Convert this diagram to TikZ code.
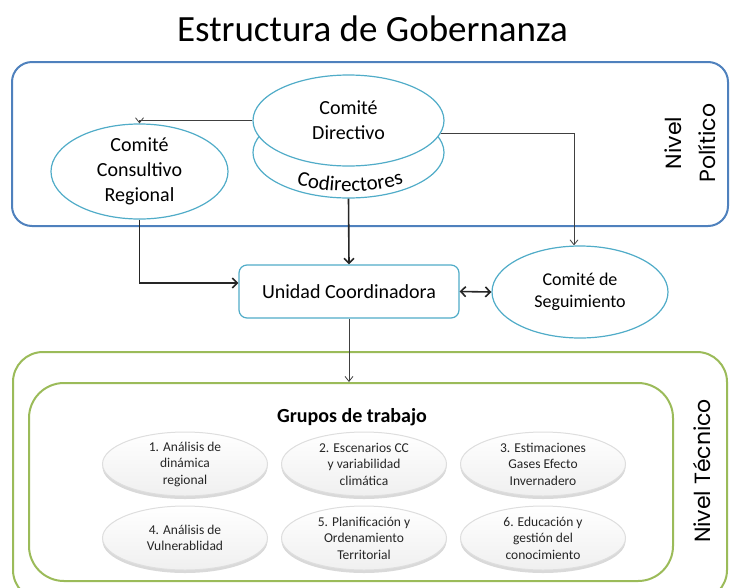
\documentclass[tikz,border=0pt]{standalone}
\usepackage{fontspec}
\setmainfont{Carlito}
\newfontfamily\nivelfont{Poppins}
\usetikzlibrary{shapes.geometric}
\usetikzlibrary{shadows}
\usetikzlibrary{decorations.text}
\usetikzlibrary{arrows.meta}

\definecolor{azul}{RGB}{79,129,189}
\definecolor{turquesa}{RGB}{80,172,200}
\definecolor{verde}{RGB}{155,187,89}

\begin{document}
\begin{tikzpicture}[x=1pt, y=-1pt,
    comite/.style={ellipse, draw=turquesa, line width=1.2pt, fill=white,
       inner sep=0pt, align=center, font=\fontsize{20}{25}\selectfont},
    grupo/.style={ellipse, minimum width=165pt, minimum height=64pt, inner sep=0pt,
       top color=white, bottom color=black!6, draw=black!13, line width=1pt,
       drop shadow={shadow xshift=0pt, shadow yshift=-3pt, opacity=0.3},
       align=center, text=black!85, font=\fontsize{13.5}{16.5}\selectfont},
    nivel/.style={rotate=90, align=center, font=\nivelfont\fontsize{22}{34}\selectfont},
    flecha fina/.style={-{Straight Barb[length=5pt, width=8pt]}, draw=black!75,
       line width=0.8pt},
    flecha gruesa/.style={-{Straight Barb[length=5pt, width=10pt]}, draw=black!85,
       line width=1.6pt}]
\useasboundingbox (0,0) rectangle (730,587);

\node [anchor=base, font=\fontsize{37}{40}\selectfont] (titulo) at (372.5,41)
   {Estructura de Gobernanza};

% nivel politico
\draw [azul, line width=2pt, rounded corners=20pt] (12,62) rectangle (728,226);
\node [nivel] (politico) at (690,143) {Nivel\\Político};

\node [comite, minimum width=191pt, minimum height=91pt] (codir) at (348.5,152.5) {};
\path [decorate, decoration={text along path, text align=center,
   text={|\fontsize{21}{21}\selectfont|Codirectores}}]
   (286,181) .. controls (325,195) and (375,195) .. (414,180);
\node [comite, minimum width=191pt, minimum height=91pt] (dir) at (348.5,120.5)
   {Comité\\Directivo};
\node [comite, minimum width=177pt, minimum height=77pt] (cons) at (139.5,171.5)
   {Comité\\Consultivo\\Regional};

\node [draw=turquesa, line width=1.2pt, rounded corners=8pt, fill=white,
   minimum width=220pt, minimum height=53pt, font=\fontsize{20}{25}\selectfont]
   (uc) at (349,291.5) {Unidad Coordinadora};
\node [comite, minimum width=176pt, minimum height=92pt,
   font=\fontsize{18}{22}\selectfont] (seg) at (580,292) {Comité de\\Seguimiento};

% nivel tecnico
\draw [verde, line width=2pt, rounded corners=30pt] (13,352) rectangle (727,600);
\node [draw=verde, line width=2pt, rounded corners=35pt,
   minimum width=644pt, minimum height=198pt] (grupos) at (351,482) {};
\node [nivel] (tecnico) at (702,471) {Nivel Técnico};
\node [anchor=base, font=\bfseries\fontsize{20}{24}\selectfont] (gt) at (352,422)
   {Grupos de trabajo};

\foreach \n/\texto [evaluate={\x=mod(\n-1,3); \y=floor((\n-1)/3);}] in
   {1/{1. Análisis de\\dinámica\\regional},
    2/{2. Escenarios CC\\y variabilidad\\climática},
    3/{3. Estimaciones\\Gases Efecto\\Invernadero},
    4/{4. Análisis de\\Vulnerablidad},
    5/{5. Planificación y\\Ordenamiento\\Territorial},
    6/{6. Educación y\\gestión del\\conocimiento}}
   \node [grupo] (g\n) at ({185+179*\x},{464+74*\y}) {\texto};

% conectores
\draw [flecha fina] (dir.west) -| (cons.north);
\draw [flecha fina] (dir.-8) -| ([xshift=-6pt]seg.north);
\draw [flecha gruesa] (cons.south) |- ([yshift=8.5pt]uc.west);
\draw [flecha gruesa] (codir.south) -- (uc.north);
\draw [flecha gruesa, {Straight Barb[length=5pt, width=10pt]}-{Straight Barb[length=5pt, width=10pt]}]
   (uc.east) -- (seg.west);
\draw [flecha fina] (uc.south) -- (uc.south |- grupos.north);
\end{tikzpicture}
\end{document}
